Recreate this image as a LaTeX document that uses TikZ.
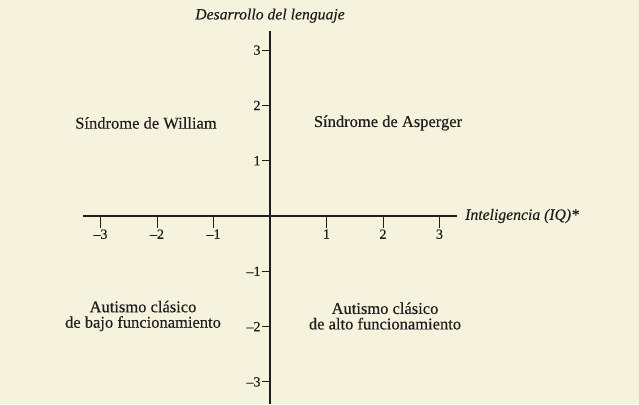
\documentclass[tikz,border=0pt]{standalone}
\usepackage{fontspec}
\setmainfont[FakeBold=0.35]{Liberation Serif}

\definecolor{paper}{RGB}{245,242,222}
\definecolor{ink}{RGB}{32,30,27}

\tikzset{
    axis line/.style={draw=ink, line width=1.2pt},
    tick line/.style={draw=ink, line width=1pt},
    tick label/.style={text=ink, font=\fontsize{14}{14}\selectfont, inner sep=1pt},
    axis title/.style={text=ink, font=\fontsize{15.7}{16}\selectfont\itshape, inner sep=1pt},
    quadrant/.style={text=ink, align=center, font=\fontsize{16.5}{15.5}\selectfont, inner sep=1pt},
}
% one tick with its number on each axis, positions in pixels of the page
\newcommand{\xtickat}[2]{\draw[tick line] (270+56.5*#1,216) -- ++(0,12) node[tick label, below] (xt#1) {#2};}
\newcommand{\ytickat}[2]{\draw[tick line] (270,216-55.3*#1) -- ++(-8,0) node[tick label, left] (yt#1) {#2};}

\begin{document}
\begin{tikzpicture}[x=1pt, y=-1pt]

    \fill[paper] (0,0) rectangle (639,404);
    \useasboundingbox (0,0) rectangle (639,404);

    % the two axes
    \coordinate (west) at (83,216);
    \coordinate (east) at (457,216);
    \coordinate (north) at (270,31);
    \coordinate (south) at (270,404);
    \draw[axis line] (west) -- (east);
    \draw[axis line] (north) -- (south);

    \foreach \i/\t in {-3/–3,-2/–2,-1/–1,1/1,2/2,3/3} {\xtickat{\i}{\t} \ytickat{\i}{\t}}

    \node[axis title, anchor=south] (ylabel) at (270,24) {Desarrollo del lenguaje};
    \node[axis title, anchor=west] (xlabel) at (464,216) {Inteligencia (IQ)*};

    % what sits in each quadrant
    \node[quadrant] (william) at (146,123) {Síndrome de William};
    \node[quadrant] (asperger) at (388,123) {Síndrome de Asperger};
    \node[quadrant] (bajo) at (143,316) {Autismo clásico\\de bajo funcionamiento};
    \node[quadrant] (alto) at (385,316) {Autismo clásico\\de alto funcionamiento};

\end{tikzpicture}
\end{document}
